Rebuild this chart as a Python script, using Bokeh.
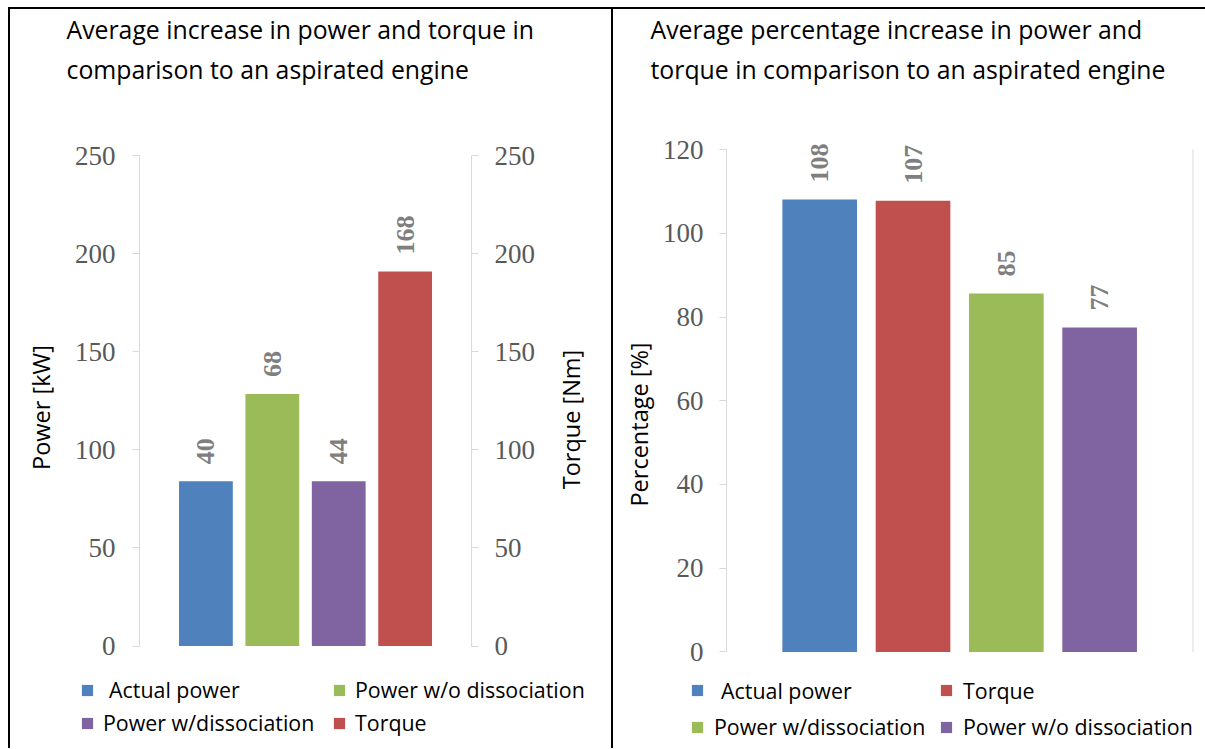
import math
from bokeh.plotting import figure
from bokeh.models import (ColumnDataSource, LinearAxis, FixedTicker, Label,
                          Legend, LegendItem, Range1d)
from bokeh.layouts import row
from bokeh.embed import file_html
from bokeh.resources import INLINE
from bokeh.core.properties import value

# ---------------- data ----------------
left_title = ["Average increase in power and torque in",
              "comparison to an aspirated engine"]
left_categories = ["Actual power", "Power w/o dissociation",
                   "Power w/dissociation", "Torque"]
left_heights = [84, 128.5, 84, 191]
left_labels = ["40", "68", "44", "168"]
left_colors = ["#4f81bd", "#9bbb59", "#8064a2", "#c0504d"]
left_ticks = [0, 50, 100, 150, 200, 250]

right_title = ["Average percentage increase in power and",
               "torque in comparison to an aspirated engine"]
right_categories = ["Actual power", "Torque",
                    "Power w/dissociation", "Power w/o dissociation"]
right_heights = [108.1, 107.8, 85.6, 77.5]
right_labels = ["108", "107", "85", "77"]
right_colors = ["#4f81bd", "#c0504d", "#9bbb59", "#8064a2"]
right_ticks = [0, 20, 40, 60, 80, 100, 120]

SANS = "Open Sans"
SERIF = "Liberation Serif"
TICK_COLOR = "#595959"
AXIS_COLOR = "#d9d9d9"


def style_axis(ax, ticks, bounds, tick_standoff):
    ax.ticker = FixedTicker(ticks=ticks)
    ax.bounds = bounds
    ax.major_label_text_font = SERIF
    ax.major_label_text_font_size = "27px"
    ax.major_label_text_color = TICK_COLOR
    ax.major_label_standoff = tick_standoff
    ax.axis_line_color = AXIS_COLOR
    ax.major_tick_line_color = AXIS_COLOR
    ax.major_tick_out = 7
    ax.major_tick_in = 0
    ax.minor_tick_line_color = None


def make_panel(title_lines, title_pos, cats, heights, labels, colors,
               bar_width, fw, fh, x_rng, y_rng, legend_pos, margin):
    p = figure(x_range=Range1d(*x_rng), y_range=Range1d(*y_rng),
               frame_width=fw, frame_height=fh,
               min_border_left=0, min_border_right=0,
               min_border_top=0, min_border_bottom=0,
               x_axis_location=None, y_axis_location=None,
               output_backend="svg", toolbar_location=None,
               styles={"border-top": "2px solid black",
                       "border-left": "2px solid black"})
    p.margin = margin
    p.xgrid.visible = False
    p.ygrid.visible = False
    p.outline_line_color = None
    p.background_fill_color = "white"
    p.border_fill_color = "white"

    xs = [i + 1 for i in range(len(cats))]
    renderers = []
    for i in range(len(cats)):
        src = ColumnDataSource(dict(x=[xs[i]], top=[heights[i]]))
        r = p.vbar(x="x", top="top", bottom=0, width=bar_width, source=src,
                   fill_color=colors[i], line_color=None)
        renderers.append(r)

    lab_src = ColumnDataSource(dict(x=xs, y=heights, t=labels))
    p.text(x="x", y="y", text="t", source=lab_src, angle=math.pi / 2,
           text_align="left", text_baseline="middle", y_offset=-17,
           text_font=value(SERIF), text_font_size="26px",
           text_font_style="bold", text_color="#7f7f7f")

    tx, ty1, ty2 = title_pos
    for txt, ty in ((title_lines[0], ty1), (title_lines[1], ty2)):
        p.add_layout(Label(x=tx, y=ty, x_units="screen", y_units="screen",
                           text=txt, text_align="left",
                           text_baseline="alphabetic", text_font=SANS,
                           text_font_size="24.8px", text_color="black"))

    for i in range(len(cats)):
        (lx, ly, st) = legend_pos[i]
        leg = Legend(items=[LegendItem(label=cats[i], renderers=[renderers[i]])],
                     location=(lx, ly), padding=0, margin=0,
                     border_line_color=None, background_fill_alpha=0,
                     glyph_width=14, glyph_height=14, label_height=14,
                     label_standoff=st, label_text_font=SANS,
                     label_text_font_size="21.4px", label_text_color="black")
        p.add_layout(leg)
    return p


def axis_title(p, text, x, y):
    p.add_layout(Label(x=x, y=y, x_units="screen", y_units="screen",
                       text=text, angle=math.pi / 2, text_align="center",
                       text_baseline="middle", text_font=SANS,
                       text_font_size="23.5px", text_color="black"))


# ---------------- left panel ----------------
left_legend_pos = [(70, 46, 15), (322, 46, 9), (70, 13, 9), (322, 13, 9)]
p1 = make_panel(left_title, (56, 722, 682), left_categories, left_heights,
                left_labels, left_colors, 0.81, 601, 739,
                (-1.943, 7.138), (-53.29, 324.67), left_legend_pos,
                (7, 0, 0, 8))
lax = LinearAxis(fixed_location=0)
p1.add_layout(lax, "left")
style_axis(lax, left_ticks, (0, 250), 17)
rax = LinearAxis(fixed_location=5)
p1.add_layout(rax, "right")
style_axis(rax, left_ticks, (0, 250), 16)
axis_title(p1, "Power [kW]", 30, 343)
axis_title(p1, "Torque [Nm]", 560, 331)

# ---------------- right panel ----------------
right_legend_pos = [(77, 45.5, 17), (326, 45.5, 10), (77, 9, 10), (326, 9, 10)]
p2 = make_panel(right_title, (37, 722, 681.5), right_categories, right_heights,
                right_labels, right_colors, 0.8, 592, 739,
                (-1.2097, 5.1559), (-23.55, 153.46), right_legend_pos,
                (7, 0, 0, 0))
lax2 = LinearAxis(fixed_location=0)
p2.add_layout(lax2, "left")
style_axis(lax2, right_ticks, (0, 120), 16)
p2.segment(x0=[5], y0=[0], x1=[5], y1=[120], line_color=AXIS_COLOR, line_width=1)
axis_title(p2, "Percentage [%]", 25, 326)

layout = row(p1, p2, spacing=0)
open("out.html", "w").write(file_html(layout, INLINE))
